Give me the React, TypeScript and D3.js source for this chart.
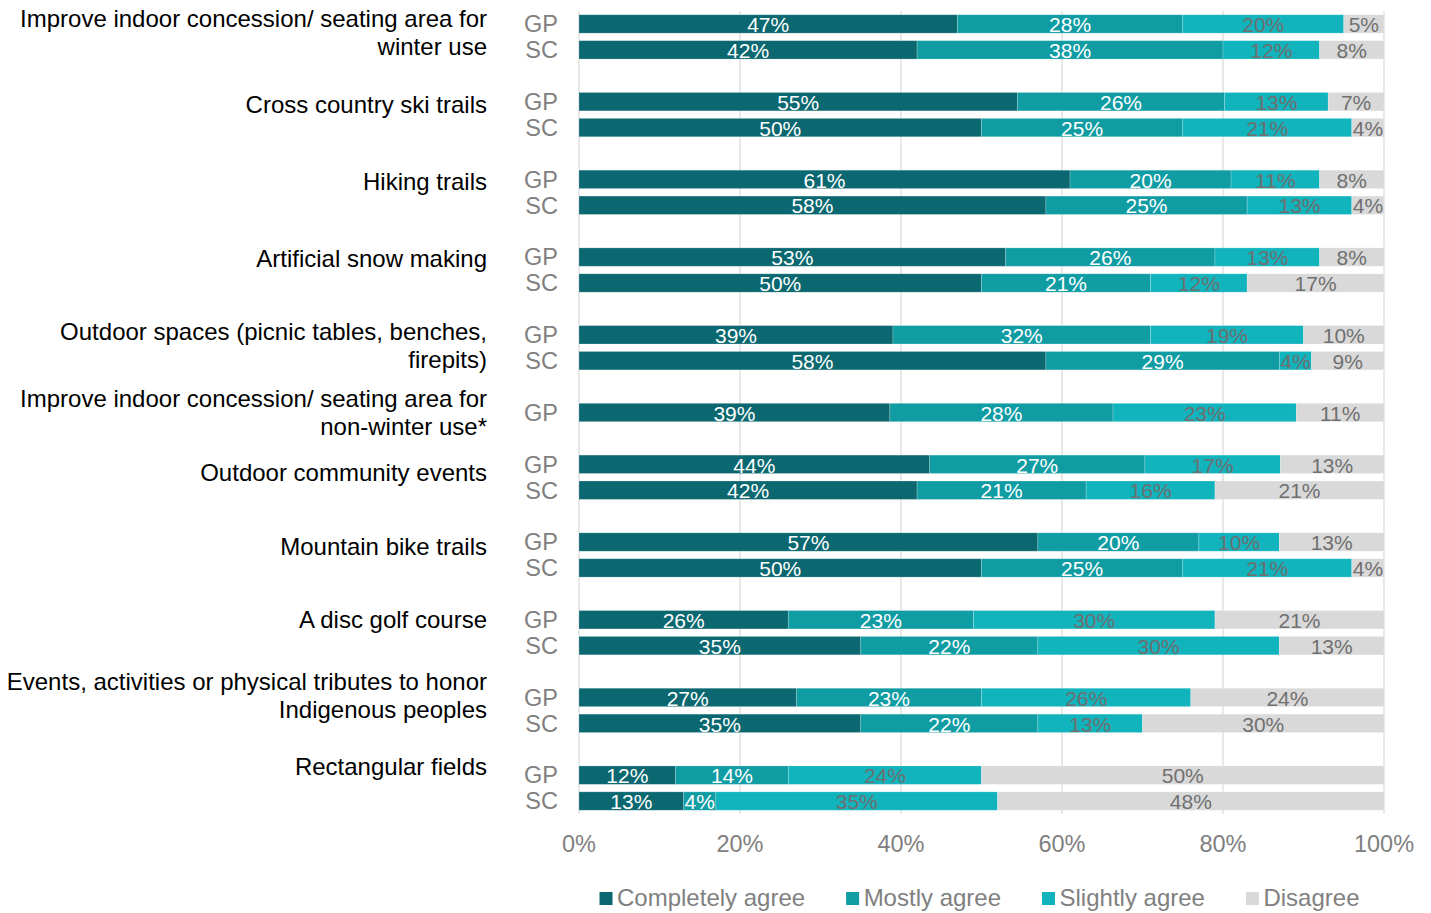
import React, { useEffect, useRef } from "react";
import * as d3 from "d3";

// ---------- data ----------
const categories: string[][] = [
  ["Improve indoor concession/ seating area for", "winter use"],
  ["Cross country ski trails"],
  ["Hiking trails"],
  ["Artificial snow making"],
  ["Outdoor spaces (picnic tables, benches,", "firepits)"],
  ["Improve indoor concession/ seating area for", "non-winter use*"],
  ["Outdoor community events"],
  ["Mountain bike trails"],
  ["A disc golf course"],
  ["Events, activities or physical tributes to honor", "Indigenous peoples"],
  ["Rectangular fields"],
];
const seriesNames = ["Completely agree", "Mostly agree", "Slightly agree", "Disagree"];
const gpCompletely = [47, 55, 61, 53, 39, 39, 44, 57, 26, 27, 12];
const gpMostly = [28, 26, 20, 26, 32, 28, 27, 20, 23, 23, 14];
const gpSlightly = [20, 13, 11, 13, 19, 23, 17, 10, 30, 26, 24];
const gpDisagree = [5, 7, 8, 8, 10, 11, 13, 13, 21, 24, 50];
const scCompletely: (number | null)[] = [42, 50, 58, 50, 58, null, 42, 50, 35, 35, 13];
const scMostly: (number | null)[] = [38, 25, 25, 21, 29, null, 21, 25, 22, 22, 4];
const scSlightly: (number | null)[] = [12, 21, 13, 12, 4, null, 16, 21, 30, 13, 35];
const scDisagree: (number | null)[] = [8, 4, 4, 17, 9, null, 21, 4, 13, 30, 48];
const xTicks = [0, 0.2, 0.4, 0.6, 0.8, 1.0];

// ---------- layout / style ----------
const W = 1431;
const H = 913;
const FONT = "'Liberation Sans', Arial, Helvetica, sans-serif";
const colors = ["#0b6870", "#109ca3", "#11b3bd", "#d9d9d9"];
const labelColors = ["#ffffff", "#ffffff", "#6f6f6f", "#707070"];
const labelNudge = [8.7, 2.9, 2.4, 1.6, 10.5, 0, 8, 4, -0.7, -2.5, -8.3];

export default function App() {
  const ref = useRef<SVGSVGElement | null>(null);

  useEffect(() => {
    const svg = d3.select(ref.current);
    svg.selectAll("*").remove();

    // build rows
    const rows: any[] = [];
    categories.forEach((_, i) => {
      rows.push({ id: `gp${i}`, cat: i, group: "GP", values: [gpCompletely[i], gpMostly[i], gpSlightly[i], gpDisagree[i]] });
      if (scCompletely[i] != null) {
        rows.push({ id: `sc${i}`, cat: i, group: "SC", values: [scCompletely[i], scMostly[i], scSlightly[i], scDisagree[i]] as number[] });
      }
      if (i < categories.length - 1) rows.push({ id: `blank${i}`, blank: true });
    });

    const x = d3.scaleLinear().domain([0, 1]).range([579, 1384]);
    const y = d3
      .scaleBand<string>()
      .domain(rows.map((r) => r.id))
      .range([11, 814])
      .paddingInner(0.29)
      .paddingOuter(0.145);

    const g = svg.append("g").attr("font-family", FONT);

    // gridlines
    g.selectAll("line.grid")
      .data(xTicks)
      .join("line")
      .attr("x1", (d) => x(d))
      .attr("x2", (d) => x(d))
      .attr("y1", 11)
      .attr("y2", 814)
      .attr("stroke", "#d9d9d9")
      .attr("stroke-width", 1.2);

    // tick labels
    g.selectAll("text.tick")
      .data(xTicks)
      .join("text")
      .attr("x", (d) => x(d))
      .attr("y", 851.6)
      .attr("text-anchor", "middle")
      .attr("font-size", 23.5)
      .attr("fill", "#808080")
      .text((d) => d3.format(".0%")(d));

    const dataRows = rows.filter((r) => !r.blank);

    dataRows.forEach((r) => {
      const total = d3.sum(r.values as number[]);
      const stack: { x0: number; x1: number; v: number; k: number }[] = [];
      let acc = 0;
      (r.values as number[]).forEach((v, k) => {
        stack.push({ x0: acc / total, x1: (acc + v) / total, v, k });
        acc += v;
      });
      const y0 = y(r.id)!;
      const bh = y.bandwidth();
      const rg = g.append("g");
      rg.selectAll("rect")
        .data(stack)
        .join("rect")
        .attr("x", (d) => x(d.x0))
        .attr("y", y0)
        .attr("width", (d) => x(d.x1) - x(d.x0))
        .attr("height", bh)
        .attr("fill", (d) => colors[d.k])
        .attr("stroke", "#ffffff")
        .attr("stroke-opacity", 0.25)
        .attr("stroke-width", 0.8);
      rg.selectAll("text")
        .data(stack)
        .join("text")
        .attr("x", (d) => (x(d.x0) + x(d.x1)) / 2)
        .attr("y", y0 + bh / 2 + 8.2)
        .attr("text-anchor", "middle")
        .attr("font-size", 21)
        .attr("fill", (d) => labelColors[d.k])
        .text((d) => `${d.v}%`);

      // GP / SC label
      g.append("text")
        .attr("x", 558)
        .attr("y", y0 + bh / 2 + 8.3)
        .attr("text-anchor", "end")
        .attr("font-size", 23.5)
        .attr("fill", "#808080")
        .text(r.group);
    });

    // category labels
    categories.forEach((lines, i) => {
      const gpId = `gp${i}`;
      const center = y(gpId)! + y.bandwidth() / 2 + labelNudge[i];
      const lh = 28;
      const t = g
        .append("text")
        .attr("text-anchor", "end")
        .attr("font-size", 24)
        .attr("fill", "#000000");
      lines.forEach((ln, j) => {
        const cy = center - ((lines.length - 1) * lh) / 2 + j * lh;
        t.append("tspan").attr("x", 487).attr("y", cy + 8.6).text(ln);
      });
    });

    // legend
    const lg = g.append("g");
    const sq = 13;
    const gapSqText = 4.5;
    const gapItems = 41;
    const temp = lg
      .selectAll("text.tmp")
      .data(seriesNames)
      .join("text")
      .attr("font-size", 24)
      .text((d) => d);
    const widths: number[] = [];
    temp.each(function () {
      widths.push((this as SVGTextElement).getComputedTextLength());
    });
    temp.remove();
    const total = d3.sum(widths) + seriesNames.length * (sq + gapSqText) + (seriesNames.length - 1) * gapItems;
    let cx = (579 + 1384) / 2 - total / 2 - 2;
    seriesNames.forEach((name, k) => {
      lg.append("rect")
        .attr("x", cx)
        .attr("y", 892)
        .attr("width", sq)
        .attr("height", sq)
        .attr("fill", colors[k]);
      lg.append("text")
        .attr("x", cx + sq + gapSqText)
        .attr("y", 906)
        .attr("font-size", 24)
        .attr("fill", "#808080")
        .text(name);
      cx += sq + gapSqText + widths[k] + gapItems;
    });
  }, []);

  return (
    <svg
      ref={ref}
      width={W}
      height={H}
      style={{ position: "absolute", left: 0, top: 0, background: "#ffffff" }}
    />
  );
}
